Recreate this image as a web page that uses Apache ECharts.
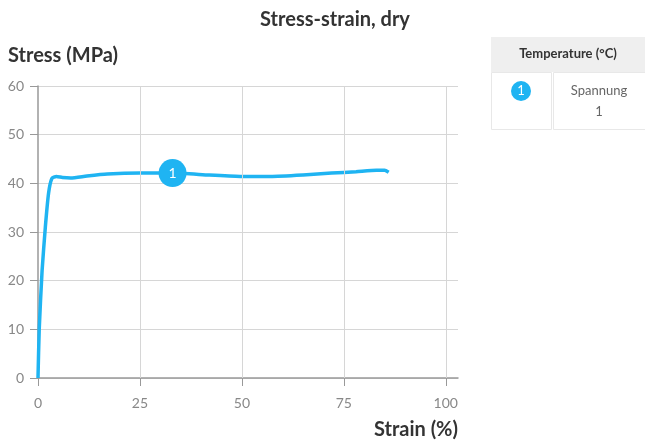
<!DOCTYPE html>
<html>
<head>
<meta charset="utf-8">
<script src="https://cdn.jsdelivr.net/npm/echarts@6/dist/echarts.min.js"></script>
<style>
  html, body { margin: 0; padding: 0; background: #fff; }
  #chart { width: 645px; height: 443px; }
</style>
</head>
<body>
<div id="chart"></div>
<script>
  // strain (%) vs stress (MPa)
  const strain = [0, 0.3, 1, 1.8, 2.6, 3.4, 4.5, 6, 8, 12, 17, 25, 33, 42, 50, 57, 65, 72, 78, 83, 85, 86]
  const stress = [0, 10, 22, 31, 38, 41, 41.4, 41.2, 41.1, 41.5, 41.9, 42.1, 42.1, 41.7, 41.4, 41.4, 41.7, 42.1, 42.4, 42.7, 42.7, 42.3]
  const labelIndex = 12
  const xTicks = [0, 25, 50, 75, 100]
  const yTicks = [0, 10, 20, 30, 40, 50, 60]
  const xMax = 103
  const lineColor = '#1fb4f2'
  const font = 'Lato, "Noto Sans", sans-serif'

  const chart = echarts.init(document.getElementById('chart'))

  const seriesData = strain.map((x, i) => {
    if (i === labelIndex) {
      return {
        value: [x, stress[i]],
        symbol: 'circle',
        symbolSize: 28,
        itemStyle: { color: lineColor },
        label: { show: true, position: 'inside', formatter: '1', color: '#fff', fontSize: 14, fontFamily: font }
      }
    }
    return [x, stress[i]]
  })

  const option = {
    animation: false,
    title: {
      text: 'Stress-strain, dry',
      left: 330, top: 5, textAlign: 'center',
      textStyle: { fontSize: 20, fontWeight: 'bold', color: '#333', fontFamily: font }
    },
    grid: { left: 38, right: 187, top: 86, bottom: 65, containLabel: false },
    xAxis: {
      type: 'value',
      min: 0, max: xMax,
      axisLine: { show: true, lineStyle: { color: '#999', width: 1.5 } },
      axisTick: { show: true, length: 8, customValues: xTicks, lineStyle: { color: '#999' } },
      axisLabel: { color: '#888', fontSize: 14, margin: 18, customValues: xTicks, fontFamily: font },
      splitLine: { show: false }
    },
    yAxis: {
      type: 'value',
      min: yTicks[0], max: yTicks[yTicks.length - 1], interval: 10,
      axisLine: { show: true, lineStyle: { color: '#999', width: 1.5 } },
      axisTick: { show: true, length: 8, lineStyle: { color: '#999' } },
      axisLabel: { color: '#888', fontSize: 14, margin: 14, fontFamily: font },
      splitLine: { show: true, lineStyle: { color: '#d6d6d6' } }
    },
    series: [{
      type: 'line',
      data: seriesData,
      symbol: 'none',
      smooth: 0.2,
      lineStyle: { color: lineColor, width: 3.5 },
      itemStyle: { color: lineColor },
      z: 3
    }, {
      // vertical grid lines at the labelled strain ticks
      type: 'line',
      data: [],
      silent: true,
      markLine: {
        symbol: 'none',
        label: { show: false },
        lineStyle: { color: '#d6d6d6', type: 'solid', width: 1 },
        data: xTicks.slice(1).map(v => ({ xAxis: v }))
      },
      z: 1
    }],
    graphic: [
      { type: 'text', left: 8, top: 46,
        style: { text: 'Stress (MPa)', fill: '#333', font: 'bold 20px ' + font } },
      { type: 'text', right: 187, top: 420,
        style: { text: 'Strain (%)', fill: '#333', font: 'bold 20px ' + font } },
      // legend table
      { type: 'rect', shape: { x: 491, y: 37, width: 154, height: 35 }, style: { fill: '#efefef' } },
      { type: 'rect', shape: { x: 491.5, y: 72.5, width: 60, height: 57 }, style: { fill: '#fff', stroke: '#e8e8e8', lineWidth: 1 } },
      { type: 'rect', shape: { x: 553.5, y: 72.5, width: 92, height: 57 }, style: { fill: '#fff', stroke: '#e8e8e8', lineWidth: 1 } },
      { type: 'text', x: 568, y: 54,
        style: { text: 'Temperature (°C)', fill: '#333', font: 'bold 13px ' + font, align: 'center', verticalAlign: 'middle' } },
      { type: 'circle', shape: { cx: 521, cy: 91, r: 10 }, style: { fill: lineColor } },
      { type: 'text', x: 521, y: 91,
        style: { text: '1', fill: '#fff', font: '13px ' + font, align: 'center', verticalAlign: 'middle' } },
      { type: 'text', x: 599, y: 91,
        style: { text: 'Spannung', fill: '#666', font: '13px ' + font, align: 'center', verticalAlign: 'middle' } },
      { type: 'text', x: 599, y: 112,
        style: { text: '1', fill: '#666', font: '13px ' + font, align: 'center', verticalAlign: 'middle' } }
    ]
  }

  chart.setOption(option)
</script>
</body>
</html>
